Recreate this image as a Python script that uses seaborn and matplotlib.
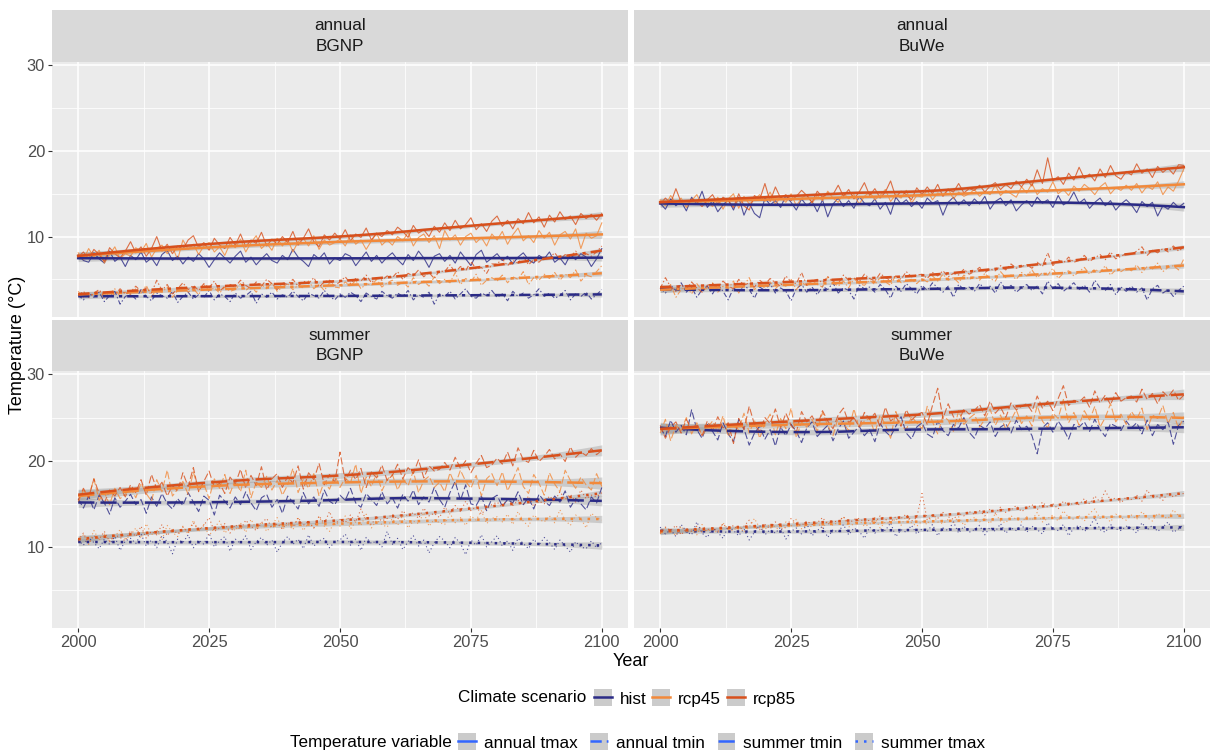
import numpy as np
import pandas as pd
import matplotlib
matplotlib.use('Agg')
import matplotlib.pyplot as plt
import seaborn as sns
from matplotlib.lines import Line2D
from matplotlib.patches import Patch

years = list(range(2000, 2101))
scenarios = ['hist', 'rcp45', 'rcp85']
sites = ['BGNP', 'BuWe']
periods = ['annual', 'summer']
variables = ['annual tmax', 'annual tmin', 'summer tmin', 'summer tmax']

# ---- BGNP, annual ----
bgnp_annual_tmax_hist = [
    7.9, 7.2, 7.0, 8.1, 7.4, 6.9, 8.3, 7.1, 7.6, 6.5,
    7.8, 7.3, 8.2, 7.0, 7.5, 6.6, 7.9, 8.4, 7.2, 7.7,
    6.8, 7.6, 7.1, 8.0, 7.4, 6.4, 7.3, 8.1, 7.5, 6.9,
    7.7, 8.3, 7.0, 7.6, 6.7, 7.4, 8.0, 7.2, 6.9, 7.8,
    7.3, 8.5, 7.6, 7.1, 6.5, 7.9, 7.4, 8.1, 6.8, 7.5,
    7.2, 8.0, 7.7, 6.6, 7.4, 8.2, 7.1, 7.8, 6.9, 7.6,
    8.1, 7.3, 6.7, 7.9, 7.2, 8.3, 7.5, 6.4, 7.7, 8.0,
    7.1, 7.8, 6.9, 8.2, 7.4, 6.6, 7.9, 8.4, 7.0, 7.5,
    8.0, 7.2, 7.7, 6.8, 7.6, 8.1, 7.3, 6.9, 7.8, 7.4,
    8.2, 7.0, 7.5, 6.7, 7.9, 7.3, 8.0, 7.6, 6.5, 7.4, 8.6]
bgnp_annual_tmax_rcp45 = [
    8.1, 7.3, 8.6, 7.6, 8.4, 6.9, 7.9, 8.8, 7.4, 8.0,
    7.7, 8.7, 8.2, 9.2, 7.6, 8.6, 9.0, 8.0, 8.8, 7.3,
    9.6, 8.5, 9.1, 7.9, 8.9, 9.3, 8.2, 8.8, 7.8, 9.2,
    8.7, 9.7, 8.2, 9.3, 10.1, 8.6, 9.2, 8.4, 9.8, 8.9,
    9.7, 8.2, 9.4, 9.8, 8.9, 10.1, 8.5, 9.6, 9.0, 9.3,
    9.7, 8.9, 10.2, 9.1, 9.6, 8.5, 9.5, 10.4, 9.0, 9.6,
    9.0, 10.0, 9.5, 10.5, 8.9, 9.9, 10.3, 9.3, 10.1, 8.6,
    10.7, 9.6, 10.2, 9.0, 10.0, 10.4, 9.3, 9.9, 8.9, 10.3,
    9.6, 10.6, 9.1, 10.2, 11.0, 9.5, 10.1, 9.3, 10.7, 9.8,
    10.5, 9.0, 10.2, 10.6, 9.7, 10.9, 8.6, 10.4, 9.8, 10.1, 11.6]
bgnp_annual_tmax_rcp85 = [
    7.6, 8.2, 7.4, 8.5, 7.9, 7.1, 8.7, 8.0, 7.5, 8.3,
    9.4, 8.1, 8.8, 7.7, 8.6, 10.0, 8.3, 9.1, 8.0, 8.9,
    8.5, 9.6, 10.1, 8.7, 9.3, 8.4, 9.8, 9.0, 8.6, 9.9,
    9.0, 10.3, 8.8, 9.6, 9.2, 10.5, 8.9, 9.7, 9.1, 10.0,
    9.3, 10.6, 9.0, 9.8, 10.9, 9.4, 8.8, 10.2, 9.6, 10.4,
    9.7, 10.8, 9.5, 10.3, 9.9, 11.0, 9.6, 10.4, 10.0, 10.7,
    10.2, 11.1, 10.6, 9.9, 11.3, 10.4, 10.8, 10.0, 11.2, 10.5,
    11.6, 10.7, 11.9, 10.9, 11.4, 12.2, 10.8, 11.5, 10.6, 11.8,
    12.4, 11.2, 11.9, 10.9, 12.1, 11.5, 12.8, 11.6, 12.3, 11.1,
    12.5, 11.7, 12.9, 12.0, 12.4, 11.4, 12.7, 12.1, 12.6, 11.9, 12.7]
bgnp_annual_tmin_hist = [
    3.2, 2.6, 3.4, 2.9, 3.5, 2.4, 3.1, 3.6, 2.1, 3.0,
    3.3, 2.7, 3.8, 3.0, 2.5, 3.4, 3.1, 2.8, 3.6, 2.3,
    3.0, 3.5, 2.7, 3.2, 2.9, 3.7, 2.6, 3.3, 3.0, 2.4,
    3.4, 2.8, 3.1, 3.6, 2.2, 3.3, 2.9, 3.5, 2.7, 3.2,
    2.9, 3.6, 3.0, 2.5, 3.4, 3.1, 2.8, 3.7, 3.0, 2.6,
    3.3, 2.9, 3.5, 3.1, 2.4, 3.4, 3.0, 2.7, 3.6, 3.1,
    2.8, 3.4, 3.0, 3.7, 2.6, 3.2, 2.9, 3.5, 2.1, 3.3,
    3.0, 3.6, 2.7, 3.3, 3.9, 3.0, 2.8, 3.4, 3.1, 3.7,
    2.9, 3.3, 2.5, 3.6, 3.0, 3.4, 2.8, 3.2, 3.9, 3.0,
    3.4, 2.8, 3.1, 3.7, 2.6, 3.3, 3.0, 3.5, 2.7, 3.2, 3.8]
bgnp_annual_tmin_rcp45 = [
    3.6, 2.9, 3.4, 3.1, 3.7, 2.8, 3.3, 3.9, 3.0, 3.5,
    3.2, 3.9, 3.4, 4.3, 3.0, 3.8, 3.5, 4.1, 2.9, 3.7,
    4.2, 3.5, 3.9, 3.2, 4.4, 3.7, 4.0, 3.4, 4.1, 3.6,
    3.8, 4.5, 3.7, 4.2, 3.5, 4.4, 3.9, 4.6, 3.6, 4.1,
    4.5, 3.8, 4.3, 4.0, 4.8, 3.9, 4.4, 3.7, 4.6, 4.1,
    4.0, 4.7, 4.2, 4.9, 3.9, 4.5, 4.3, 5.0, 4.1, 4.6,
    4.9, 4.3, 4.7, 4.1, 5.2, 4.4, 4.8, 4.2, 5.3, 4.5,
    5.0, 4.6, 5.8, 4.4, 5.1, 4.7, 5.6, 4.3, 4.9, 5.2,
    4.8, 5.5, 4.6, 5.3, 5.0, 5.9, 4.4, 5.2, 4.9, 5.6,
    5.1, 5.8, 4.9, 5.6, 5.2, 6.1, 4.8, 5.5, 5.3, 5.9, 6.6]
bgnp_annual_tmin_rcp85 = [
    3.1, 3.6, 2.9, 3.4, 3.8, 3.0, 3.5, 3.2, 3.9, 3.3,
    3.5, 4.2, 3.6, 4.0, 3.4, 4.9, 3.7, 4.4, 3.3, 3.9,
    4.6, 3.8, 4.3, 3.7, 4.5, 4.0, 4.8, 3.6, 4.2, 4.4,
    4.1, 4.9, 4.3, 3.9, 4.7, 4.2, 5.0, 4.5, 3.8, 4.6,
    4.4, 5.0, 4.2, 4.8, 4.5, 5.2, 4.1, 4.7, 4.9, 4.3,
    4.7, 5.3, 4.5, 5.1, 4.8, 5.5, 4.6, 5.2, 4.9, 5.4,
    5.2, 5.9, 5.0, 5.7, 5.4, 6.1, 5.3, 5.8, 5.1, 6.0,
    5.9, 6.7, 5.8, 6.5, 6.0, 7.1, 6.2, 6.4, 5.7, 6.8,
    6.8, 7.4, 6.6, 7.2, 6.9, 7.7, 6.7, 7.3, 7.0, 7.6,
    7.5, 8.1, 7.3, 7.9, 7.6, 8.3, 7.4, 8.0, 7.7, 8.2, 8.9]

# ---- BuWe, annual ----
buwe_annual_tmax_hist = [
    13.9, 13.2, 14.4, 13.6, 14.1, 13.0, 14.6, 13.8, 15.3, 13.4,
    14.2, 12.9, 13.7, 14.3, 13.1, 14.6, 12.5, 13.9, 12.7, 12.2,
    14.5, 13.7, 14.2, 13.4, 14.8, 14.0, 13.1, 14.4, 13.6, 14.1,
    12.9, 14.3, 12.3, 13.8, 14.5, 13.5, 14.2, 13.3, 14.7, 13.9,
    13.6, 14.4, 13.2, 14.0, 12.6, 14.6, 13.8, 14.3, 13.5, 14.1,
    13.3, 14.5, 13.9, 14.2, 12.5, 14.0, 14.6, 13.7, 14.3, 13.6,
    14.4, 13.8, 14.7, 13.2, 14.1, 14.5, 13.6, 14.3, 13.0, 13.7,
    14.2, 13.5, 14.6, 13.9, 14.3, 13.4, 14.8, 13.7, 14.1, 15.2,
    13.9, 14.4, 13.3, 14.0, 14.5, 13.6, 14.2, 13.1, 13.8, 14.3,
    13.7, 12.8, 14.1, 13.5, 14.0, 12.4, 13.6, 13.2, 14.0, 13.4, 13.9]
buwe_annual_tmax_rcp45 = [
    14.3, 13.6, 14.8, 13.9, 14.5, 13.4, 14.2, 14.9, 13.7, 14.1,
    13.5, 14.6, 13.2, 14.4, 15.0, 13.3, 14.7, 13.8, 14.3, 14.9,
    14.1, 15.2, 13.8, 14.6, 14.0, 15.0, 13.6, 14.5, 14.9, 13.9,
    14.8, 14.2, 15.3, 14.5, 14.0, 15.1, 14.4, 14.9, 13.8, 14.7,
    15.2, 14.3, 14.8, 15.5, 14.1, 14.9, 14.5, 15.4, 13.9, 14.8,
    14.6, 15.4, 14.3, 15.1, 14.8, 15.6, 14.4, 15.2, 14.7, 15.0,
    15.5, 14.7, 15.3, 14.9, 16.0, 14.8, 15.4, 15.0, 14.6, 15.8,
    15.1, 16.2, 14.9, 15.6, 15.2, 16.4, 15.0, 15.5, 14.8, 15.9,
    15.3, 16.1, 15.6, 14.9, 15.8, 16.3, 15.0, 15.7, 15.4, 16.0,
    15.4, 16.2, 15.1, 15.9, 15.5, 16.4, 14.9, 15.8, 15.3, 16.5, 17.9]
buwe_annual_tmax_rcp85 = [
    13.8, 14.5, 13.9, 15.6, 14.0, 13.7, 14.4, 14.1, 13.5, 14.3,
    14.9, 13.8, 14.6, 14.2, 13.4, 15.0, 13.6, 13.1, 14.8, 14.3,
    16.2, 14.1, 15.8, 14.5, 14.9, 14.2, 14.7, 15.4, 14.8, 14.0,
    15.3, 14.6, 15.1, 14.9, 16.0, 14.7, 15.5, 14.4, 15.2, 16.3,
    14.8, 15.6, 14.5, 15.2, 16.5, 14.6, 15.3, 14.9, 14.3, 15.7,
    14.9, 15.8, 15.0, 16.1, 14.7, 15.5, 15.2, 16.2, 15.1, 15.6,
    15.4, 16.0, 15.2, 15.9, 16.3, 15.5, 16.1, 15.6, 16.5, 15.8,
    16.7, 15.9, 17.8, 16.2, 19.2, 16.5, 17.0, 16.1, 17.4, 16.6,
    18.1, 16.8, 17.3, 16.5, 17.9, 16.9, 18.3, 17.1, 16.7, 17.6,
    17.2, 18.5, 17.4, 17.9, 16.9, 18.2, 17.5, 18.0, 17.3, 18.4, 18.3]
buwe_annual_tmin_hist = [
    4.0, 3.4, 4.3, 3.7, 4.6, 3.5, 4.1, 2.9, 3.8, 4.2,
    3.3, 4.4, 3.6, 2.6, 4.0, 3.5, 4.3, 3.8, 2.8, 4.1,
    3.7, 4.5, 3.4, 4.0, 3.6, 2.5, 3.9, 4.4, 3.5, 4.1,
    3.2, 4.2, 3.8, 4.6, 3.4, 4.0, 3.7, 2.7, 4.3, 3.9,
    4.1, 3.5, 4.4, 3.8, 2.8, 4.2, 3.6, 4.5, 3.9, 3.3,
    4.3, 3.7, 4.6, 4.0, 3.5, 4.2, 2.9, 4.4, 3.8, 4.1,
    3.6, 4.5, 3.9, 4.2, 3.4, 4.7, 3.8, 4.3, 3.5, 4.0,
    4.4, 3.7, 4.2, 3.3, 4.8, 3.9, 4.5, 3.6, 4.1, 4.6,
    3.8, 4.3, 3.5, 4.9, 4.0, 3.7, 4.4, 3.2, 4.1, 3.6,
    4.2, 3.5, 4.0, 2.6, 3.9, 4.3, 3.4, 3.8, 3.0, 3.7, 4.2]
buwe_annual_tmin_rcp45 = [
    4.1, 3.6, 4.4, 2.9, 3.8, 4.2, 3.3, 4.5, 3.7, 4.0,
    4.6, 3.5, 4.2, 3.9, 4.8, 3.4, 4.3, 5.2, 3.8, 4.4,
    4.0, 4.7, 3.9, 4.5, 4.2, 5.0, 3.8, 4.6, 4.3, 4.9,
    4.4, 4.1, 5.3, 4.6, 4.2, 4.8, 4.0, 5.1, 4.5, 4.3,
    4.9, 4.4, 5.2, 4.7, 4.3, 5.5, 4.6, 4.8, 5.0, 4.5,
    5.1, 4.7, 5.4, 4.8, 5.6, 4.9, 5.2, 4.6, 5.5, 5.0,
    5.3, 4.9, 5.7, 5.1, 4.8, 5.9, 5.2, 5.5, 5.0, 5.8,
    5.4, 6.1, 5.2, 5.8, 5.5, 6.3, 5.1, 5.7, 6.0, 5.4,
    5.9, 6.4, 5.6, 6.2, 5.8, 6.6, 5.5, 6.1, 5.9, 6.3,
    6.0, 6.7, 5.8, 6.5, 6.2, 6.9, 5.9, 6.4, 6.6, 6.1, 7.4]
buwe_annual_tmin_rcp85 = [
    3.9, 5.2, 4.1, 3.6, 4.4, 3.8, 4.7, 4.0, 3.5, 4.3,
    4.5, 4.0, 4.8, 4.2, 3.9, 5.0, 4.3, 4.6, 4.1, 4.9,
    4.4, 5.1, 4.6, 4.2, 5.4, 4.7, 4.5, 5.8, 4.3, 4.8,
    5.0, 4.6, 5.3, 4.8, 4.5, 5.5, 4.9, 5.2, 4.7, 5.6,
    5.1, 4.8, 5.7, 5.2, 4.9, 5.4, 5.0, 5.9, 5.3, 5.5,
    5.6, 5.1, 5.8, 5.4, 6.0, 5.3, 5.7, 5.5, 6.2, 5.6,
    5.9, 6.4, 5.8, 6.2, 6.0, 6.6, 6.1, 6.8, 6.3, 6.5,
    6.7, 6.3, 7.0, 6.5, 8.1, 6.6, 7.3, 6.9, 7.6, 7.0,
    7.2, 7.8, 7.1, 7.5, 7.9, 7.3, 8.2, 7.4, 7.7, 8.0,
    7.9, 8.3, 8.8, 7.8, 8.4, 8.1, 8.6, 8.2, 8.9, 8.3, 8.8]

# ---- BGNP, summer (legend labels: "summer tmin" = upper long-dash, "summer tmax" = lower dotted) ----
bgnp_summer_tmin_hist = [
    15.6, 14.5, 15.9, 14.3, 16.0, 15.1, 13.8, 15.7, 14.6, 15.3,
    16.1, 14.9, 15.5, 13.9, 15.8, 14.7, 16.2, 15.0, 14.4, 15.6,
    14.8, 16.3, 15.2, 14.1, 15.9, 15.4, 13.7, 16.0, 15.3, 14.5,
    15.8, 14.9, 16.4, 15.1, 14.2, 15.7, 16.1, 14.6, 15.5, 13.9,
    15.9, 15.2, 14.4, 16.3, 15.0, 15.8, 14.7, 16.6, 15.3, 14.9,
    16.0, 15.4, 16.8, 15.1, 14.6, 16.2, 15.5, 14.8, 16.4, 15.0,
    15.7, 14.5, 16.1, 15.3, 16.6, 14.9, 15.8, 15.2, 16.9, 15.5,
    14.6, 16.3, 17.6, 15.4, 17.2, 15.0, 14.8, 15.9, 14.2, 15.6,
    16.0, 14.7, 15.5, 15.1, 16.4, 14.9, 15.7, 14.4, 16.1, 15.3,
    14.8, 15.9, 15.2, 16.5, 14.6, 15.6, 15.0, 14.3, 15.8, 15.1, 16.9]
bgnp_summer_tmin_rcp45 = [
    15.2, 16.6, 15.8, 17.9, 15.4, 16.3, 14.9, 16.8, 15.6, 16.1,
    16.9, 15.7, 17.4, 16.2, 15.3, 17.8, 16.4, 18.9, 15.9, 16.7,
    17.6, 16.1, 18.7, 16.5, 17.3, 15.6, 17.9, 16.8, 18.4, 16.2,
    17.8, 16.4, 18.9, 15.7, 17.5, 16.9, 18.2, 16.6, 17.7, 16.0,
    17.2, 19.1, 16.3, 17.9, 16.8, 18.5, 15.9, 17.6, 16.7, 18.3,
    16.9, 18.0, 17.4, 19.6, 16.2, 18.1, 17.0, 18.6, 16.5, 17.8,
    18.4, 16.6, 17.9, 17.1, 18.8, 16.3, 17.7, 18.2, 16.9, 17.5,
    16.4, 18.6, 17.2, 18.9, 17.6, 16.8, 18.3, 15.9, 17.9, 18.5,
    17.1, 18.7, 16.5, 17.8, 19.2, 17.0, 16.2, 18.4, 17.4, 16.0,
    18.6, 17.3, 16.4, 18.9, 17.7, 16.8, 18.1, 17.2, 16.6, 18.5, 17.0]
bgnp_summer_tmin_rcp85 = [
    15.4, 16.8, 15.7, 17.9, 16.2, 15.1, 16.6, 15.9, 16.9, 15.8,
    17.2, 16.3, 17.8, 16.0, 18.4, 16.7, 17.5, 15.9, 17.1, 16.5,
    18.6, 17.0, 19.2, 16.4, 17.6, 18.8, 16.9, 17.4, 16.2, 18.1,
    17.3, 19.0, 16.8, 18.3, 17.1, 19.3, 16.6, 17.9, 18.5, 16.9,
    18.2, 17.4, 19.4, 16.7, 18.6, 17.8, 19.7, 17.2, 18.4, 17.5,
    21.0, 17.6, 18.9, 17.8, 19.1, 16.9, 18.7, 18.0, 19.5, 17.7,
    18.3, 19.6, 17.9, 19.2, 18.5, 20.1, 18.0, 19.4, 18.8, 19.0,
    19.8, 18.9, 20.4, 19.1, 20.0, 18.6, 19.7, 20.6, 19.2, 19.5,
    20.3, 19.6, 21.0, 19.4, 21.5, 20.1, 19.8, 21.2, 19.9, 20.5,
    21.3, 20.2, 20.8, 19.9, 21.6, 20.4, 21.0, 20.6, 21.4, 20.7, 21.2]
bgnp_summer_tmax_hist = [
    10.8, 10.2, 11.1, 10.5, 9.8, 10.9, 10.3, 11.2, 9.6, 10.7,
    11.0, 10.4, 11.5, 10.1, 10.8, 9.9, 11.3, 10.6, 9.2, 10.9,
    10.5, 11.4, 9.9, 10.8, 10.3, 11.6, 10.0, 10.7, 11.2, 9.5,
    10.9, 10.4, 11.3, 9.7, 10.6, 11.1, 10.2, 10.8, 9.4, 10.5,
    11.2, 10.3, 10.9, 9.8, 11.4, 10.1, 10.7, 11.0, 9.9, 10.6,
    10.8, 11.5, 10.2, 10.9, 9.6, 11.1, 10.4, 10.7, 10.0, 11.8,
    10.3, 11.0, 9.7, 10.6, 11.3, 10.1, 10.8, 9.3, 10.5, 11.2,
    10.7, 9.9, 11.1, 10.4, 9.1, 10.8, 10.2, 11.4, 10.0, 10.6,
    11.3, 10.1, 10.7, 9.6, 11.0, 10.4, 9.8, 10.9, 10.2, 11.1,
    10.5, 9.7, 10.8, 10.1, 9.4, 10.6, 10.0, 9.8, 10.7, 9.9, 10.5]
bgnp_summer_tmax_rcp45 = [
    10.6, 11.4, 10.3, 11.9, 10.8, 11.5, 10.7, 11.2, 12.0, 10.9,
    11.3, 12.2, 11.0, 12.7, 11.4, 12.0, 10.8, 12.5, 11.7, 11.2,
    12.4, 11.5, 13.1, 11.8, 12.6, 11.3, 12.2, 13.0, 11.6, 12.3,
    11.9, 12.8, 11.7, 13.2, 12.1, 12.9, 11.8, 12.5, 13.4, 12.0,
    12.7, 12.0, 13.3, 11.9, 12.8, 12.2, 13.5, 12.4, 11.8, 13.0,
    12.4, 13.6, 12.1, 12.9, 12.5, 13.8, 12.2, 13.1, 12.6, 12.3,
    13.3, 12.5, 13.7, 12.2, 13.0, 12.7, 14.0, 12.4, 13.2, 12.8,
    12.6, 13.9, 12.8, 13.4, 12.5, 13.6, 13.1, 14.2, 12.7, 13.3,
    13.5, 12.9, 13.8, 12.6, 14.1, 13.0, 12.4, 13.7, 13.2, 12.9,
    13.6, 12.8, 14.3, 13.1, 12.5, 13.7, 13.3, 12.2, 13.9, 13.4, 13.1]
bgnp_summer_tmax_rcp85 = [
    10.8, 11.6, 10.4, 11.3, 10.9, 11.8, 10.6, 11.4, 11.1, 10.7,
    11.9, 11.2, 12.4, 11.0, 11.8, 11.4, 12.6, 11.3, 12.1, 11.5,
    12.3, 11.7, 12.8, 11.9, 12.5, 13.4, 11.8, 12.2, 12.7, 11.6,
    12.6, 12.0, 13.1, 12.4, 11.9, 12.8, 13.3, 12.2, 12.7, 12.1,
    12.9, 12.3, 13.4, 12.5, 13.0, 12.2, 13.6, 12.7, 14.1, 12.6,
    13.2, 12.8, 13.7, 12.9, 14.4, 13.1, 12.6, 13.5, 13.0, 13.3,
    13.8, 13.2, 14.2, 13.5, 14.0, 13.3, 14.5, 13.6, 13.9, 13.4,
    14.6, 13.9, 14.8, 14.1, 15.3, 14.2, 14.7, 13.8, 14.5, 14.9,
    15.2, 14.6, 15.7, 14.8, 15.4, 14.9, 15.9, 14.7, 15.3, 15.0,
    15.9, 15.3, 16.4, 15.5, 16.1, 15.2, 16.6, 15.6, 16.0, 15.8, 16.3]

# ---- BuWe, summer ----
buwe_summer_tmin_hist = [
    23.9, 22.8, 24.7, 23.3, 24.1, 23.0, 25.9, 23.6, 22.6, 24.2,
    23.4, 22.4, 24.4, 23.1, 22.2, 24.8, 23.7, 21.8, 23.2, 24.0,
    22.5, 23.6, 21.7, 23.9, 22.9, 24.2, 23.4, 22.1, 23.8, 24.5,
    22.8, 23.5, 24.1, 22.3, 23.7, 24.6, 22.6, 23.3, 24.0, 22.9,
    23.6, 22.2, 24.3, 23.4, 22.8, 24.0, 25.1, 23.2, 22.5, 23.9,
    24.4, 23.1, 22.7, 24.6, 23.5, 22.9, 24.2, 23.8, 25.0, 23.3,
    22.6, 24.1, 23.7, 24.5, 22.8, 23.9, 24.3, 23.2, 24.7, 23.6,
    24.0, 22.9, 20.8, 23.8, 24.4, 23.3, 24.6, 23.7, 22.5, 24.2,
    23.9, 24.5, 23.4, 24.8, 23.6, 22.8, 24.3, 24.0, 23.5, 24.6,
    23.8, 24.4, 23.1, 24.7, 22.9, 24.2, 23.6, 24.5, 21.9, 24.1, 24.6]
buwe_summer_tmin_rcp45 = [
    23.2, 24.8, 22.3, 24.1, 23.5, 25.0, 23.1, 24.4, 22.9, 23.8,
    24.6, 23.3, 25.2, 22.8, 24.0, 23.6, 25.5, 23.2, 24.7, 22.6,
    24.3, 25.4, 23.0, 24.9, 23.7, 26.1, 22.7, 24.5, 23.9, 24.8,
    23.4, 25.6, 24.1, 22.9, 25.0, 24.3, 23.5, 26.0, 23.8, 24.6,
    24.9, 23.2, 25.3, 24.2, 22.6, 25.7, 24.0, 23.6, 25.1, 24.4,
    23.7, 26.3, 24.5, 23.1, 25.2, 24.7, 23.4, 25.8, 24.2, 24.9,
    25.4, 23.9, 24.8, 26.0, 24.1, 25.3, 23.6, 24.7, 25.9, 24.3,
    25.2, 24.0, 26.4, 24.6, 23.8, 25.5, 24.9, 27.1, 24.4, 25.6,
    24.1, 25.8, 24.7, 26.3, 23.9, 25.0, 26.6, 24.5, 25.4, 24.2,
    25.7, 24.8, 26.1, 23.6, 25.3, 24.9, 26.4, 24.3, 25.6, 23.7, 25.1]
buwe_summer_tmin_rcp85 = [
    24.1, 22.6, 23.9, 24.5, 23.2, 24.8, 23.7, 24.2, 22.9, 24.6,
    23.5, 25.1, 23.8, 24.4, 22.0, 24.9, 23.6, 26.3, 24.2, 23.4,
    25.0, 24.3, 26.0, 23.8, 25.5, 24.1, 23.3, 25.7, 24.5, 25.2,
    24.0, 25.8, 24.6, 23.7, 25.3, 26.1, 24.4, 25.0, 23.9, 25.6,
    24.8, 25.5, 23.9, 26.2, 24.6, 25.1, 24.0, 25.9, 24.7, 25.3,
    25.6, 24.2, 26.4, 28.4, 24.9, 26.6, 25.1, 24.5, 26.0, 25.4,
    25.8, 26.5, 25.2, 26.9, 25.5, 26.2, 25.0, 26.7, 25.9, 26.3,
    26.6, 25.7, 27.5, 26.1, 26.9, 25.8, 27.2, 28.7, 26.4, 27.0,
    26.8, 27.4, 26.2, 28.1, 26.7, 27.6, 26.5, 27.9, 26.9, 27.3,
    27.5, 26.8, 28.3, 27.1, 27.8, 26.6, 28.0, 27.4, 28.2, 27.0, 27.6]
buwe_summer_tmax_hist = [
    12.3, 11.5, 12.0, 11.2, 12.6, 11.8, 11.4, 12.9, 11.6, 11.1,
    12.2, 11.7, 11.0, 12.4, 11.9, 11.3, 12.1, 10.8, 11.7, 12.5,
    11.4, 12.0, 11.6, 12.3, 10.9, 11.8, 12.2, 11.5, 12.7, 11.3,
    11.9, 12.4, 11.1, 12.0, 11.7, 12.6, 11.4, 12.2, 11.8, 11.0,
    12.3, 11.6, 12.1, 11.9, 12.8, 11.2, 12.0, 11.7, 12.5, 11.5,
    12.1, 11.8, 12.6, 11.3, 12.2, 11.9, 12.9, 11.6, 12.4, 11.7,
    12.0, 12.5, 11.4, 12.3, 11.8, 12.7, 11.6, 12.2, 11.9, 12.6,
    11.7, 12.4, 12.0, 11.5, 12.8, 12.1, 11.9, 12.6, 11.3, 12.2,
    12.5, 11.8, 12.3, 13.4, 12.0, 11.7, 12.6, 12.1, 11.9, 12.4,
    12.2, 11.6, 12.8, 12.0, 12.5, 11.8, 12.3, 12.9, 11.7, 12.1, 12.6]
buwe_summer_tmax_rcp45 = [
    11.5, 12.2, 11.9, 11.3, 12.4, 11.7, 12.0, 11.4, 12.6, 11.8,
    12.1, 11.6, 12.8, 12.0, 11.9, 12.5, 11.7, 12.3, 13.3, 12.2,
    12.0, 12.7, 12.3, 11.8, 12.9, 12.4, 13.2, 12.1, 12.6, 12.3,
    12.8, 12.2, 13.0, 12.5, 12.9, 13.5, 12.3, 12.7, 13.1, 12.4,
    12.6, 13.4, 12.2, 12.9, 12.7, 13.3, 12.5, 13.6, 12.8, 12.4,
    13.0, 12.6, 13.8, 12.9, 12.7, 13.2, 12.8, 13.5, 12.5, 13.1,
    13.4, 12.9, 13.3, 12.7, 13.9, 13.0, 12.8, 13.6, 13.2, 12.9,
    13.5, 13.1, 14.0, 12.9, 13.3, 13.7, 13.0, 14.2, 13.4, 13.2,
    13.6, 13.0, 13.9, 14.4, 13.3, 13.5, 12.9, 13.8, 13.4, 13.1,
    13.7, 13.2, 14.1, 13.4, 13.0, 13.9, 13.5, 13.3, 14.3, 13.6, 13.4]
buwe_summer_tmax_rcp85 = [
    11.6, 12.3, 11.9, 12.5, 11.4, 12.1, 11.8, 12.4, 11.7, 12.0,
    12.2, 11.8, 12.7, 12.0, 12.5, 11.9, 12.4, 13.1, 12.3, 12.0,
    12.6, 12.1, 12.9, 12.4, 12.2, 13.3, 12.7, 12.5, 13.0, 12.6,
    12.8, 13.4, 12.6, 13.0, 12.9, 13.5, 12.7, 13.2, 13.3, 12.9,
    13.1, 12.8, 13.6, 13.2, 12.9, 13.5, 13.3, 13.8, 13.0, 13.4,
    16.2, 13.1, 13.7, 13.3, 14.0, 13.5, 13.2, 13.9, 13.6, 14.1,
    13.8, 14.2, 13.6, 14.4, 13.9, 14.6, 14.0, 14.3, 14.8, 14.1,
    14.5, 14.9, 14.3, 15.2, 14.6, 15.0, 14.4, 15.3, 14.8, 15.1,
    14.9, 15.6, 15.0, 15.9, 15.2, 16.5, 15.4, 15.7, 15.1, 15.8,
    15.5, 16.0, 15.3, 16.6, 15.7, 15.9, 15.4, 16.3, 15.8, 16.1, 16.2]

series = {
    ('BGNP', 'annual tmax'): [bgnp_annual_tmax_hist, bgnp_annual_tmax_rcp45, bgnp_annual_tmax_rcp85],
    ('BGNP', 'annual tmin'): [bgnp_annual_tmin_hist, bgnp_annual_tmin_rcp45, bgnp_annual_tmin_rcp85],
    ('BuWe', 'annual tmax'): [buwe_annual_tmax_hist, buwe_annual_tmax_rcp45, buwe_annual_tmax_rcp85],
    ('BuWe', 'annual tmin'): [buwe_annual_tmin_hist, buwe_annual_tmin_rcp45, buwe_annual_tmin_rcp85],
    ('BGNP', 'summer tmin'): [bgnp_summer_tmin_hist, bgnp_summer_tmin_rcp45, bgnp_summer_tmin_rcp85],
    ('BGNP', 'summer tmax'): [bgnp_summer_tmax_hist, bgnp_summer_tmax_rcp45, bgnp_summer_tmax_rcp85],
    ('BuWe', 'summer tmin'): [buwe_summer_tmin_hist, buwe_summer_tmin_rcp45, buwe_summer_tmin_rcp85],
    ('BuWe', 'summer tmax'): [buwe_summer_tmax_hist, buwe_summer_tmax_rcp45, buwe_summer_tmax_rcp85],
}

rows = []
for (site, var), vals in series.items():
    for sc, v in zip(scenarios, vals):
        for yr, t in zip(years, v):
            rows.append((site, var.split()[0], var, sc, yr, t))
df = pd.DataFrame(rows, columns=['Site', 'Period', 'Variable', 'Scenario', 'Year', 'Temp'])

palette = {'hist': '#2B2B86', 'rcp45': '#F2893A', 'rcp85': '#D8501C'}
dash_map = {'annual tmax': '', 'annual tmin': (4.5, 2.0, 1.3, 2.0),
            'summer tmin': (6.5, 2.4), 'summer tmax': (1.0, 2.4)}


def loess(x, y, grid, span=0.75):
    # local quadratic regression with tricube weights (like ggplot's default smoother)
    x = np.asarray(x, float)
    y = np.asarray(y, float)
    n = len(x)
    q = int(np.floor(span * n))

    def row(x0):
        d = np.abs(x - x0)
        h = np.sort(d)[q - 1]
        w = np.clip(1 - (d / h) ** 3, 0, None) ** 3
        X = np.column_stack([np.ones(n), x - x0, (x - x0) ** 2])
        W = X * w[:, None]
        return np.linalg.solve(X.T @ W, W.T)[0]

    L = np.array([row(v) for v in x])
    resid = y - L @ y
    M = np.eye(n) - L
    s2 = resid @ resid / np.trace(M.T @ M)
    G = np.array([row(v) for v in grid])
    fit = G @ y
    se = np.sqrt(s2 * (G ** 2).sum(axis=1))
    return fit, se


plt.rcParams['font.family'] = ['Liberation Sans', 'DejaVu Sans']
W, H = 1211, 751
fig = plt.figure(figsize=(W / 100, H / 100), dpi=100)


def rect(x0, y0, x1, y1):
    return [x0 / W, 1 - y1 / H, (x1 - x0) / W, (y1 - y0) / H]


cols = {'BGNP': (52, 628), 'BuWe': (634, 1210)}
rows_px = {'annual': ((10, 62), (62, 317)), 'summer': ((320, 371), (371, 628))}
grid = np.linspace(2000, 2100, 80)

for period in periods:
    (s0, s1), (p0, p1) = rows_px[period]
    for site in sites:
        x0, x1 = cols[site]
        sax = fig.add_axes(rect(x0, s0, x1, s1))
        sax.set_facecolor('#D9D9D9')
        sax.set_xticks([]); sax.set_yticks([])
        for s in sax.spines.values():
            s.set_visible(False)
        sax.text(0.5, 0.5, f'{period}\n{site}', ha='center', va='center',
                 fontsize=12.3, color='#1A1A1A', linespacing=1.45, transform=sax.transAxes)

        ax = fig.add_axes(rect(x0, p0, x1, p1))
        sub = df[(df.Site == site) & (df.Period == period)]
        vlist = [v for v in variables if v.startswith(period)]
        sns.lineplot(data=sub, x='Year', y='Temp', hue='Scenario', style='Variable',
                     hue_order=scenarios, style_order=vlist, palette=palette,
                     dashes=dash_map, linewidth=0.8, alpha=0.8, estimator=None,
                     legend=False, ax=ax)
        for var in vlist:
            for sc in scenarios:
                d = sub[(sub.Variable == var) & (sub.Scenario == sc)]
                fit, se = loess(d.Year, d.Temp, grid)
                ax.fill_between(grid, fit - 1.98 * se, fit + 1.98 * se,
                                color='#999999', alpha=0.4, lw=0)
                ln, = ax.plot(grid, fit, color=palette[sc], lw=1.8)
                if dash_map[var]:
                    ln.set_dashes(dash_map[var])

        ax.set_facecolor('#EBEBEB')
        ax.set_xlim(1995, 2105)
        ax.set_ylim(0.6, 30.4)
        ax.set_xticks([2000, 2025, 2050, 2075, 2100])
        ax.set_xticks([2012.5, 2037.5, 2062.5, 2087.5], minor=True)
        ax.set_yticks([10, 20, 30])
        ax.set_yticks([5, 15, 25], minor=True)
        ax.grid(which='major', color='white', lw=1.1)
        ax.grid(which='minor', color='white', lw=0.55)
        ax.set_axisbelow(True)
        for s in ax.spines.values():
            s.set_visible(False)
        ax.tick_params(which='minor', length=0)
        ax.tick_params(which='major', length=3, width=0.8, color='#333333',
                       labelcolor='#4D4D4D', labelsize=11.8, pad=2)
        ax.set_xlabel('')
        ax.set_ylabel('')
        if site == 'BuWe':
            ax.tick_params(axis='y', left=False, labelleft=False)
        if period == 'annual':
            ax.tick_params(axis='x', bottom=False, labelbottom=False)

fig.text(18 / W, 1 - 345 / H, 'Temperature (°C)', rotation=90, ha='center', va='center',
         fontsize=13, color='black')
fig.text(631 / W, 1 - 661 / H, 'Year', ha='center', va='center', fontsize=13, color='black')

key_bg = '#CBCBCB'
leg_kw = dict(loc='center left', frameon=False, handlelength=1.05, handleheight=1.15,
              handletextpad=0.45, borderpad=0, borderaxespad=0, fontsize=12.3)
sc_handles = [(Patch(facecolor=key_bg, edgecolor='none'),
               Line2D([], [], color=palette[s], lw=1.8)) for s in scenarios]
fig.text(586 / W, 1 - 698 / H, 'Climate scenario', ha='right', va='center', fontsize=12.3)
fig.legend(sc_handles, scenarios, bbox_to_anchor=(594 / W, 1 - 698 / H), ncol=3,
           columnspacing=0.35, **leg_kw)

var_handles = []
for v in variables:
    ln = Line2D([], [], color='#3366FF', lw=1.8)
    if dash_map[v]:
        ln.set_dashes(dash_map[v])
    var_handles.append((Patch(facecolor=key_bg, edgecolor='none'), ln))
fig.text(452 / W, 1 - 742 / H, 'Temperature variable', ha='right', va='center', fontsize=12.3)
fig.legend(var_handles, variables, bbox_to_anchor=(458 / W, 1 - 742 / H), ncol=4,
           columnspacing=0.75, **leg_kw)

fig.savefig('out.png', dpi=100, facecolor='white')
